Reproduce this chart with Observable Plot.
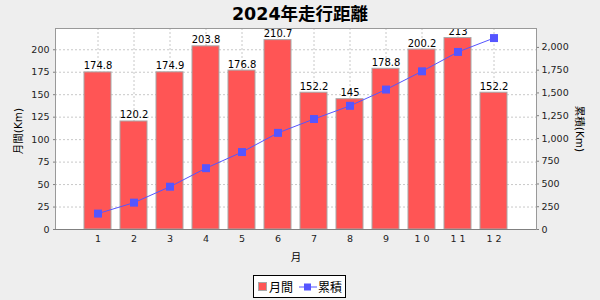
<!DOCTYPE html>
<html>
<head>
<meta charset="utf-8">
<script src="https://cdn.jsdelivr.net/npm/d3@7"></script>
<script src="https://cdn.jsdelivr.net/npm/@observablehq/plot@0.6"></script>
<style>
  html, body { margin: 0; padding: 0; background: #eeeeee; }
  #wrap { position: relative; width: 600px; height: 300px; overflow: hidden; background: #eeeeee;
          font-family: "DejaVu Sans", "Noto Sans CJK JP", sans-serif; }
  #title { position: absolute; left: 0; top: 4.5px; width: 600px; text-align: center;
           font-weight: bold; font-size: 17.5px; line-height: 18px; color: #000; }
  .layer { position: absolute; left: 0; top: 0; }
  #legend { position: absolute; left: 253px; top: 275px; width: 91px; height: 21px;
            background: #fff; border: 1px solid #000; display: flex; align-items: center;
            font-size: 12px; color: #000; box-sizing: content-box; }
  #legend .sw { width: 7px; height: 7px; background: #ff5555; border: 1px solid #a8a8a8; margin-left: 4px; margin-right: 2px; }
  #legend svg { margin-left: 6px; margin-right: 1px; }
</style>
</head>
<body>
<div id="wrap">
  <div id="title">2024年走行距離</div>
  <div id="base" class="layer"></div>
  <div id="over" class="layer"></div>
  <div id="legend">
    <div class="sw"></div><span>月間</span>
    <svg width="18" height="10"><line x1="0" y1="5" x2="18" y2="5" stroke="#5555ff" stroke-width="1"/><rect x="5" y="1.5" width="7" height="7" fill="#5555ff"/></svg><span>累積</span>
  </div>
</div>
<script>
const months = [1, 2, 3, 4, 5, 6, 7, 8, 9, 10, 11, 12];
const xLabels = ["1", "2", "3", "4", "5", "6", "7", "8", "9", "1 0", "1 1", "1 2"];
const monthly = [174.8, 120.2, 174.9, 203.8, 176.8, 210.7, 152.2, 145, 178.8, 200.2, 213, 152.2];
const cumulative = [174.8, 295, 469.9, 673.7, 850.5, 1061.2, 1213.4, 1358.4, 1537.2, 1737.4, 1950.4, 2102.6];
const monthlyLabels = ["174.8", "120.2", "174.9", "203.8", "176.8", "210.7", "152.2", "145", "178.8", "200.2", "213", "152.2"];
const leftTicks = [0, 25, 50, 75, 100, 125, 150, 175, 200];
const rightTicks = [0, 250, 500, 750, 1000, 1250, 1500, 1750, 2000];
const leftMax = 223.65;
const rightMax = 2207.7;

const rows = months.map((m, i) => ({m, v: monthly[i], c: cumulative[i], lab: monthlyLabels[i]}));

const dims = {
  width: 600, height: 300,
  marginTop: 28, marginBottom: 71, marginLeft: 55, marginRight: 64
};
const xScale = {type: "band", domain: months, paddingInner: 0.24, paddingOuter: 0.67, align: 0.5};
const fontStyle = {fontFamily: "'DejaVu Sans', 'Noto Sans CJK JP', sans-serif", fontSize: "9.5px", color: "#333", overflow: "visible", background: "transparent"};

const base = Plot.plot({
  ...dims,
  style: fontStyle,
  x: xScale,
  y: {domain: [0, leftMax]},
  marks: [
    Plot.frame({fill: "white"}),
    Plot.gridY(leftTicks, {stroke: "#c8c8c8", strokeOpacity: 1, strokeDasharray: "2,2"}),
    Plot.gridX({stroke: "#c8c8c8", strokeOpacity: 1, strokeDasharray: "2,2"}),
    Plot.barY(rows, {x: "m", y: "v", fill: "#ff5555", stroke: "#a8a8a8", strokeWidth: 1}),
    Plot.text(rows, {x: "m", y: "v", text: "lab", lineAnchor: "bottom", dy: -3, fill: "#000", fontSize: 10, clip: true}),
    Plot.axisY({ticks: leftTicks, tickSize: 2, tickPadding: 4, stroke: "#808080", strokeOpacity: 1, label: null, fill: "#222"}),
    Plot.axisX({tickSize: 0, tickPadding: 6, tickFormat: (d) => xLabels[months.indexOf(d)], label: null, fill: "#222"}),
    Plot.frame({stroke: "#999"}),
    Plot.ruleX([0], {frameAnchor: "left", stroke: "#808080"}),
    Plot.ruleY([0], {stroke: "#808080"}),
    Plot.text(["月間(Km)"], {frameAnchor: "left", dx: -37, dy: 2, rotate: -90, textAnchor: "middle", lineAnchor: "middle", fontSize: 10.5, fill: "#000"}),
    Plot.text(["月"], {frameAnchor: "bottom", dy: 28, textAnchor: "middle", lineAnchor: "middle", fontSize: 10.5, fill: "#000"})
  ]
});

const over = Plot.plot({
  ...dims,
  style: fontStyle,
  x: {...xScale, axis: null},
  y: {domain: [0, rightMax]},
  marks: [
    Plot.line(rows, {x: "m", y: "c", stroke: "#5555ff", strokeWidth: 1}),
    Plot.dot(rows, {x: "m", y: "c", symbol: "square", r: 4.5, fill: "#5555ff", stroke: "none"}),
    Plot.axisY({anchor: "right", ticks: rightTicks, tickFormat: d3.format(","), tickSize: 2, tickPadding: 3, stroke: "#808080", strokeOpacity: 1, label: null, fill: "#222"}),
    Plot.ruleX([0], {frameAnchor: "right", stroke: "#808080"}),
    Plot.text(["累積(Km)"], {frameAnchor: "right", dx: 43, rotate: 90, textAnchor: "middle", lineAnchor: "middle", fontSize: 10.5, fill: "#000"})
  ]
});

document.getElementById("base").appendChild(base);
document.getElementById("over").appendChild(over);
</script>
</body>
</html>
